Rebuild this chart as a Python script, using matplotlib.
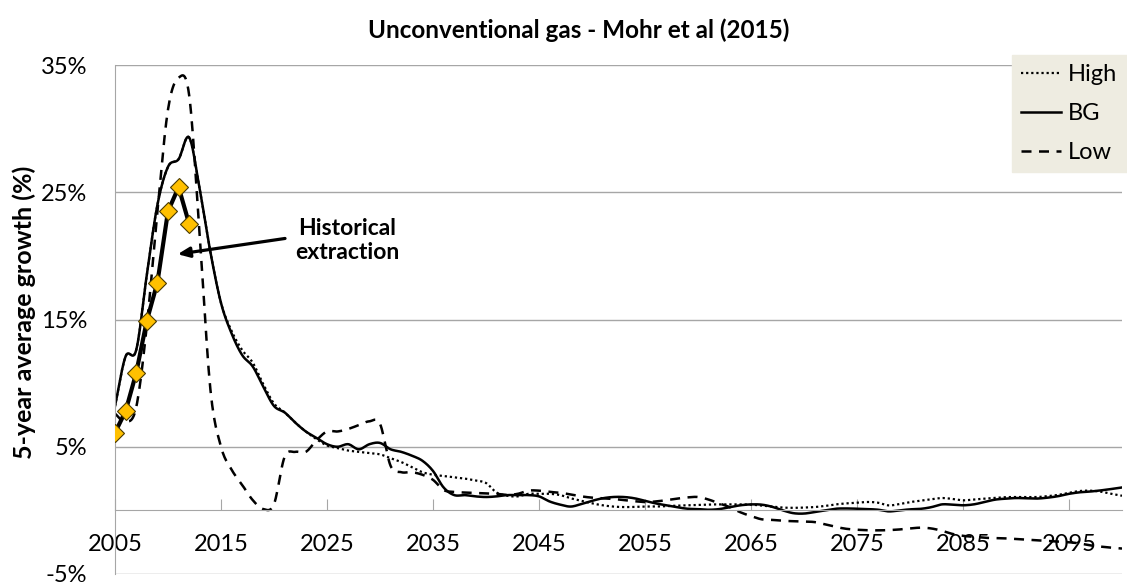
import numpy as np
import matplotlib
matplotlib.use("Agg")
import matplotlib.pyplot as plt

plt.rcParams['font.family'] = ['Lato', 'DejaVu Sans']

years = list(range(2005, 2101))

bg = [8.2, 12.1, 12.6, 18.5, 24.0, 27.0, 27.6, 29.3, 25.2, 20.3,
      16.3, 13.9, 12.2, 11.3, 9.7, 8.2, 7.7, 6.9, 6.2, 5.7,
      5.2, 5.0, 5.2, 4.8, 5.2, 5.3, 4.8, 4.6, 4.3, 3.9,
      3.1, 1.8, 1.2, 1.2, 1.1, 1.05, 1.1, 1.2, 1.2, 1.2,
      1.1, 0.7, 0.45, 0.3, 0.5, 0.75, 0.95, 1.05, 1.05, 0.95,
      0.75, 0.55, 0.4, 0.25, 0.13, 0.1, 0.05, 0.1, 0.25, 0.4,
      0.47, 0.45, 0.28, 0.0, -0.22, -0.25, -0.13, 0.0, 0.13, 0.15,
      0.13, 0.1, 0.05, -0.08, 0.0, 0.08, 0.12, 0.25, 0.47, 0.45,
      0.4, 0.47, 0.65, 0.84, 0.92, 0.97, 0.95, 0.93, 1.0, 1.12,
      1.3, 1.42, 1.48, 1.57, 1.68, 1.8]

high = [8.2, 12.1, 12.6, 18.5, 24.0, 27.0, 27.6, 29.3, 25.2, 20.3,
        16.3, 14.1, 12.6, 11.6, 9.9, 8.4, 7.7, 6.9, 6.2, 5.6,
        5.1, 4.9, 4.7, 4.6, 4.5, 4.4, 4.1, 3.8, 3.4, 3.0,
        2.8, 2.7, 2.6, 2.5, 2.35, 2.15, 1.4, 1.15, 1.1, 1.3,
        1.3, 1.3, 1.2, 0.95, 0.75, 0.55, 0.4, 0.3, 0.26, 0.27,
        0.3, 0.3, 0.33, 0.37, 0.4, 0.43, 0.46, 0.47, 0.47, 0.47,
        0.45, 0.38, 0.3, 0.22, 0.2, 0.22, 0.26, 0.35, 0.47, 0.55,
        0.6, 0.66, 0.6, 0.39, 0.5, 0.65, 0.76, 0.87, 0.97, 0.9,
        0.79, 0.85, 0.92, 0.98, 1.04, 1.05, 1.05, 1.05, 1.12, 1.22,
        1.38, 1.52, 1.55, 1.47, 1.3, 1.15]

low = [7.6, 6.95, 8.1, 14.5, 23.5, 31.5, 34.0, 32.6, 21.5, 9.5,
       5.0, 3.2, 2.0, 0.8, 0.1, 0.5, 4.2, 4.6, 4.6, 5.5,
       6.2, 6.2, 6.4, 6.7, 7.0, 6.8, 3.5, 3.0, 3.0, 2.8,
       2.4, 1.6, 1.45, 1.4, 1.36, 1.33, 1.3, 1.22, 1.3, 1.55,
       1.55, 1.45, 1.38, 1.25, 1.1, 1.0, 0.95, 0.9, 0.8, 0.72,
       0.65, 0.7, 0.8, 0.92, 1.02, 1.05, 0.85, 0.55, 0.25, -0.15,
       -0.45, -0.7, -0.75, -0.82, -0.85, -0.88, -0.92, -1.1, -1.3, -1.45,
       -1.52, -1.56, -1.57, -1.55, -1.5, -1.42, -1.36, -1.42, -1.6, -1.85,
       -2.0, -2.08, -2.15, -2.18, -2.2, -2.25, -2.3, -2.35, -2.4, -2.45,
       -2.5, -2.6, -2.75, -2.85, -2.93, -3.0]

hist_years = [2005, 2006, 2007, 2008, 2009, 2010, 2011, 2012]
hist = [6.1, 7.8, 10.8, 14.9, 17.9, 23.5, 25.4, 22.5]

y_ticks = [-5, 5, 15, 25, 35]
x_ticks = list(range(2005, 2101, 10))


def smooth(x, y, n=12):
    # Catmull-Rom curve through the points, like Excel's "smoothed line"
    x = np.asarray(x, float)
    y = np.asarray(y, float)
    px = np.concatenate([[2 * x[0] - x[1]], x, [2 * x[-1] - x[-2]]])
    py = np.concatenate([[2 * y[0] - y[1]], y, [2 * y[-1] - y[-2]]])
    xs, ys = [], []
    t = np.linspace(0, 1, n, endpoint=False)
    for i in range(1, len(px) - 2):
        for p, out in ((px, xs), (py, ys)):
            p0, p1, p2, p3 = p[i - 1], p[i], p[i + 1], p[i + 2]
            out.extend(0.5 * (2 * p1 + (-p0 + p2) * t
                              + (2 * p0 - 5 * p1 + 4 * p2 - p3) * t ** 2
                              + (-p0 + 3 * p1 - 3 * p2 + p3) * t ** 3))
    xs.append(x[-1])
    ys.append(y[-1])
    return np.array(xs), np.array(ys)


fig = plt.figure(figsize=(11.27, 5.88), dpi=100)
ax = fig.add_axes([115 / 1127, 14 / 588, 1007 / 1127, 509 / 588])

grid_c = '#a6a6a6'
ax.plot(*smooth(years, high), color='black', lw=1.6, ls=(0, (1, 1.3)), label='High')
ax.plot(*smooth(years, bg), color='black', lw=1.8, label='BG')
ax.plot(*smooth(years, low), color='black', lw=1.8, ls=(0, (4, 3)), label='Low')
ax.plot(hist_years, hist, color='black', lw=3, marker='D', markersize=9,
        markerfacecolor='#FFC000', markeredgecolor='#4a3a00', markeredgewidth=0.8, zorder=5)

ax.set_xlim(2005, 2100)
ax.set_ylim(-5, 35)
ax.set_yticks(y_ticks)
ax.set_yticklabels(['{}%'.format(v) for v in y_ticks])
ax.set_xticks(x_ticks)
ax.set_xticklabels([str(v) for v in x_ticks])
ax.yaxis.grid(True, color=grid_c, lw=1)
ax.set_axisbelow(True)

ax.spines['bottom'].set_position(('data', 0))
for s in ['top', 'right']:
    ax.spines[s].set_visible(False)
ax.spines['bottom'].set_color(grid_c)
ax.spines['left'].set_color(grid_c)
ax.tick_params(axis='x', direction='in', length=8, color=grid_c, pad=17, labelsize=17)
ax.tick_params(axis='y', length=0, pad=20, labelsize=17)

ax.annotate('', xy=(2010.65, 20.1), xytext=(2021.3, 21.4),
            arrowprops=dict(arrowstyle='-|>,head_length=0.7,head_width=0.3', color='black', lw=2.3))
ax.text(2026.9, 21.2, 'Historical\nextraction', ha='center', va='center',
        fontsize=16.5, fontweight='bold', linespacing=1.2)

fig.text(579 / 1127, 1 - 30 / 588, 'Unconventional gas - Mohr et al (2015)',
         ha='center', va='center', fontsize=17.5, fontweight='bold')
fig.text(24 / 1127, 1 - 312 / 588, '5-year average growth (%)', rotation=90,
         ha='center', va='center', fontsize=18, fontweight='bold')

leg = ax.legend(loc='upper right', bbox_to_anchor=(1.0, 1 - 55 / 588), bbox_transform=fig.transFigure,
                borderaxespad=0, fontsize=17, frameon=True, fancybox=False, framealpha=1,
                facecolor='#EEECE1', edgecolor='#EEECE1', handlelength=1.7, handletextpad=0.3,
                labelspacing=0.75, borderpad=0.4)

fig.savefig('out.png', dpi=100)
